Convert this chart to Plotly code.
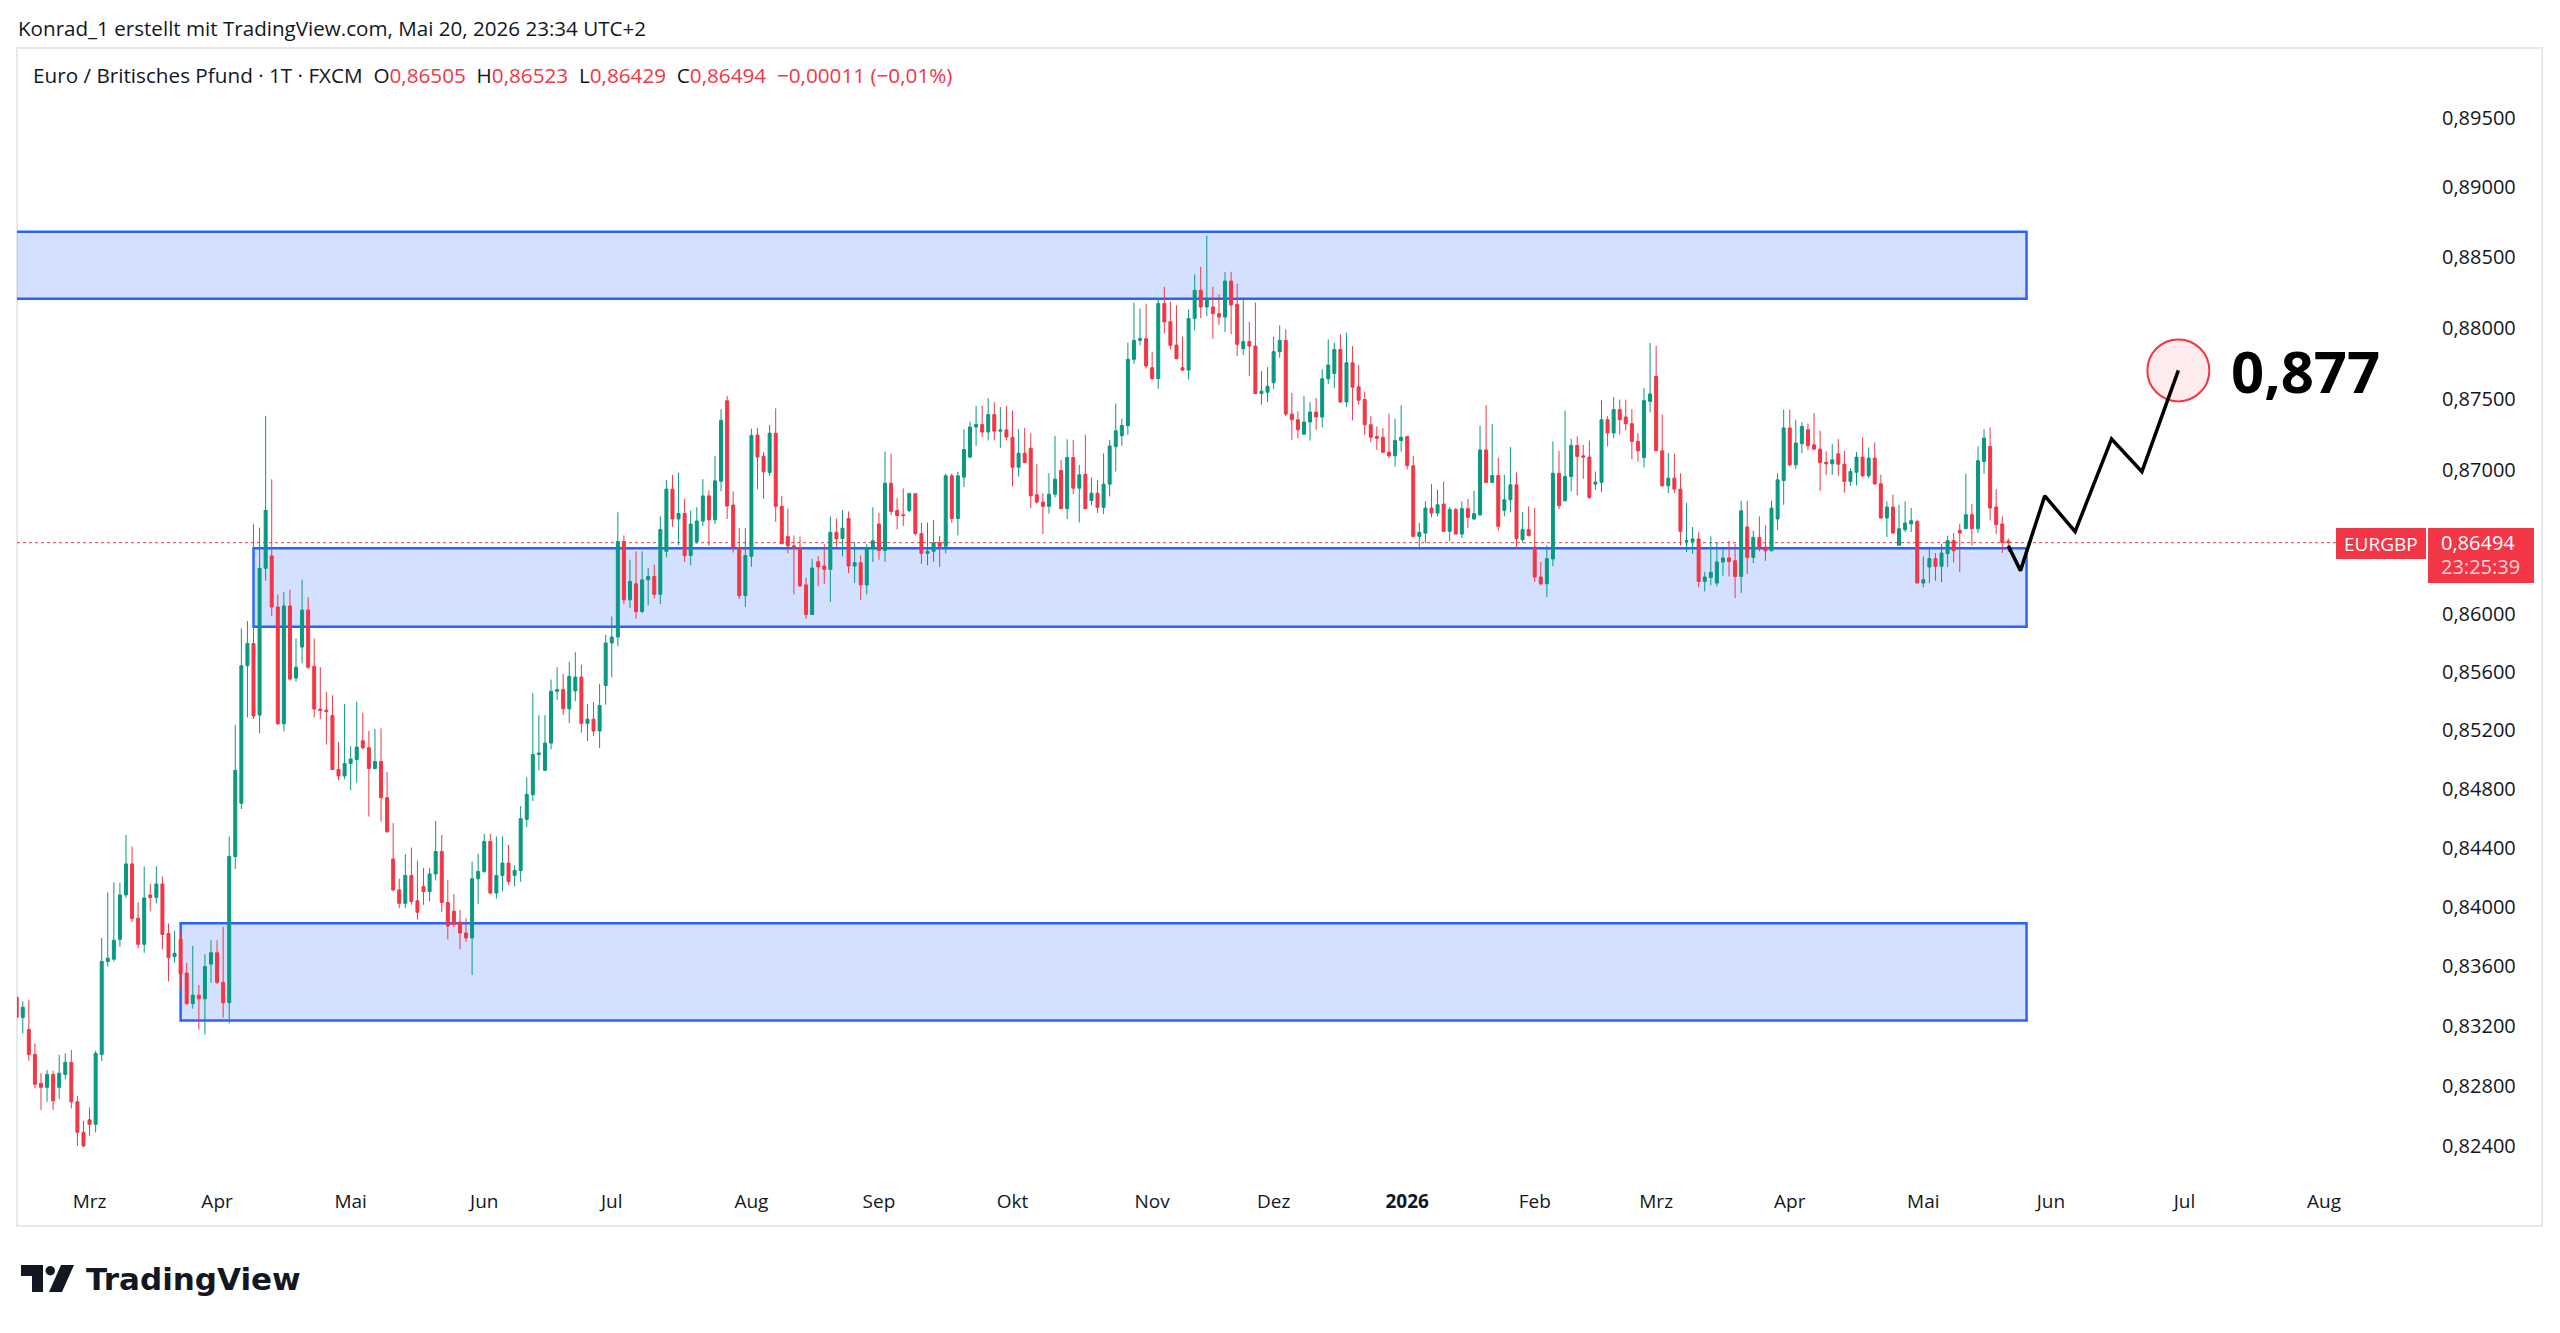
import numpy as np
import pandas as pd
import plotly.graph_objects as go

W, H = 2560, 1333
PL, PT, PR, PB = 17, 48, 2427, 1176   # plot area in px

UP = "#089981"
DOWN = "#F23645"
TXT = "#131722"
FONT = "Open Sans"

# ---------------- data (EUR/GBP daily, FXCM) ----------------
opens = [
0.83391,0.83255,0.83175,0.83009,0.82817,0.82790,0.82876,0.82790,0.82876,0.82956,
0.82694,0.82491,0.82574,0.82544,0.83009,0.83631,0.83647,0.83780,0.84080,0.84290,
0.83923,0.83747,0.84080,0.84063,0.84154,0.83820,0.83664,0.83780,0.83554,0.83349,
0.83405,0.83381,0.83614,0.83690,0.83491,0.83355,0.84340,0.84702,0.85643,0.85796,
0.85304,0.86316,0.86402,0.86048,0.85244,0.86055,0.85558,0.85772,0.86027,0.85639,
0.85345,0.85338,0.85301,0.84932,0.84888,0.84973,0.85000,0.85128,0.85081,0.84939,
0.84986,0.84740,0.84323,0.84114,0.84023,0.84212,0.84040,0.84137,0.84103,0.84222,
0.84374,0.84029,0.83970,0.83897,0.83823,0.83790,0.84189,0.84239,0.84442,0.84093,
0.84212,0.84296,0.84212,0.84245,0.84592,0.84760,0.85035,0.84926,0.85112,0.85467,
0.85479,0.85347,0.85470,0.85565,0.85247,0.85276,0.85195,0.85507,0.85800,0.85841,
0.86502,0.86098,0.86209,0.86017,0.86236,0.86259,0.86136,0.86434,0.86867,0.86659,
0.86697,0.86405,0.86502,0.86645,0.86820,0.86653,0.86922,0.87486,0.86756,0.86458,
0.86128,0.86399,0.87246,0.87097,0.86983,0.87258,0.86747,0.86537,0.86472,0.86458,
0.86201,0.85996,0.86362,0.86332,0.86309,0.86566,0.86522,0.86662,0.86332,0.86355,
0.86201,0.86455,0.86624,0.86440,0.86908,0.86718,0.86688,0.86718,0.86835,0.86557,
0.86420,0.86434,0.86493,0.86469,0.86960,0.86662,0.86951,0.87091,0.87302,0.87319,
0.87267,0.87389,0.87273,0.87281,0.87230,0.87020,0.87118,0.87153,0.86828,0.86777,
0.86747,0.86832,0.86997,0.86731,0.87088,0.86874,0.86972,0.86788,0.86839,0.86740,
0.86902,0.87164,0.87242,0.87311,0.87778,0.87912,0.87924,0.87719,0.87643,0.88172,
0.88044,0.87879,0.87719,0.87702,0.88066,0.88266,0.88148,0.88148,0.88101,0.88077,
0.88332,0.88167,0.87853,0.87903,0.87872,0.87537,0.87546,0.87613,0.87832,0.87912,
0.87393,0.87353,0.87252,0.87337,0.87407,0.87372,0.87641,0.87679,0.87848,0.87478,
0.87754,0.87584,0.87495,0.87318,0.87235,0.87230,0.87125,0.87100,0.87207,0.87235,
0.87030,0.86538,0.86561,0.86735,0.86700,0.86763,0.86573,0.86724,0.86554,0.86731,
0.86659,0.86689,0.87141,0.86914,0.86962,0.86719,0.86793,0.86897,0.86515,0.86585,
0.86464,0.86256,0.86209,0.86381,0.86978,0.86786,0.86955,0.87173,0.87100,0.87091,
0.86902,0.86914,0.87353,0.87260,0.87424,0.87372,0.87325,0.87201,0.87088,0.87482,
0.87658,0.87135,0.86890,0.86944,0.86867,0.86503,0.86503,0.86520,0.86225,0.86253,
0.86214,0.86360,0.86388,0.86369,0.86260,0.86603,0.86392,0.86531,0.86464,0.86438,
0.86659,0.86927,0.87295,0.87037,0.87185,0.87283,0.87177,0.87147,0.87055,0.87044,
0.87114,0.87041,0.86921,0.86985,0.87091,0.86960,0.87084,0.86904,0.86666,0.86742,
0.86476,0.86585,0.86626,0.86642,0.86214,0.86325,0.86383,0.86330,0.86418,0.86508,
0.86580,0.86591,0.86689,0.86591,0.87060,0.87166,0.86742,0.86624,0.86505]

highs = [
0.83398,0.83365,0.83375,0.83082,0.82883,0.82906,0.82900,0.83006,0.83016,0.83039,
0.82734,0.82567,0.82657,0.83033,0.83790,0.84097,0.84164,0.84161,0.84486,0.84408,
0.84029,0.84273,0.84154,0.84273,0.84205,0.83887,0.83837,0.83830,0.83621,0.83737,
0.83474,0.83680,0.83774,0.83774,0.83864,0.84476,0.85237,0.85900,0.85951,0.86626,
0.86599,0.87380,0.86936,0.86134,0.86151,0.86168,0.85831,0.86237,0.86116,0.85831,
0.85633,0.85463,0.85440,0.85118,0.85379,0.85091,0.85396,0.85321,0.85196,0.85210,
0.85213,0.84915,0.84567,0.84189,0.84357,0.84401,0.84313,0.84263,0.84263,0.84581,
0.84486,0.84182,0.84086,0.83980,0.83923,0.84306,0.84357,0.84493,0.84493,0.84476,
0.84476,0.84418,0.84280,0.84683,0.84878,0.85456,0.85304,0.85304,0.85548,0.85633,
0.85585,0.85671,0.85736,0.85651,0.85379,0.85393,0.85519,0.85856,0.85982,0.86706,
0.86545,0.86376,0.86434,0.86434,0.86318,0.86341,0.86677,0.86931,0.86966,0.86983,
0.86799,0.86718,0.86741,0.86937,0.86858,0.87100,0.87427,0.87521,0.86852,0.86595,
0.86595,0.87290,0.87296,0.87127,0.87316,0.87433,0.86820,0.86732,0.86545,0.86537,
0.86250,0.86382,0.86399,0.86484,0.86677,0.86662,0.86721,0.86712,0.86499,0.86405,
0.86484,0.86741,0.86703,0.87130,0.87115,0.86805,0.86872,0.86843,0.86840,0.86633,
0.86633,0.86653,0.86542,0.86975,0.86975,0.86989,0.87287,0.87340,0.87451,0.87451,
0.87506,0.87477,0.87442,0.87448,0.87417,0.87287,0.87294,0.87259,0.87041,0.86839,
0.86979,0.87240,0.87071,0.87216,0.87212,0.87037,0.87247,0.86949,0.86932,0.87118,
0.87212,0.87466,0.87360,0.87896,0.88179,0.88136,0.88172,0.87832,0.88209,0.88292,
0.88186,0.88160,0.87938,0.88132,0.88379,0.88433,0.88655,0.88292,0.88238,0.88396,
0.88398,0.88313,0.88198,0.88044,0.88179,0.87695,0.87723,0.87938,0.88018,0.87990,
0.87542,0.87412,0.87518,0.87476,0.87506,0.87707,0.87919,0.87896,0.87955,0.87966,
0.87872,0.87738,0.87549,0.87377,0.87306,0.87294,0.87396,0.87360,0.87455,0.87240,
0.87101,0.86631,0.86782,0.86904,0.86863,0.86921,0.86742,0.86735,0.86782,0.86798,
0.86856,0.87311,0.87455,0.87322,0.87088,0.86967,0.87161,0.86983,0.86707,0.86747,
0.86735,0.86360,0.86476,0.87201,0.87135,0.87417,0.87220,0.87236,0.87177,0.87208,
0.86990,0.87489,0.87377,0.87513,0.87494,0.87494,0.87428,0.87260,0.87576,0.87893,
0.87874,0.87389,0.87119,0.87114,0.86978,0.86770,0.86603,0.86566,0.86290,0.86538,
0.86492,0.86446,0.86508,0.86487,0.86786,0.86786,0.86578,0.86677,0.86615,0.86786,
0.86978,0.87424,0.87424,0.87353,0.87335,0.87325,0.87400,0.87276,0.87131,0.87182,
0.87217,0.87135,0.87013,0.87126,0.87229,0.87159,0.87194,0.86967,0.86781,0.86828,
0.86758,0.86781,0.86735,0.86654,0.86399,0.86467,0.86422,0.86487,0.86543,0.86561,
0.86626,0.86974,0.86763,0.87166,0.87288,0.87299,0.86867,0.86677,0.86523]

lows = [
0.83244,0.83149,0.82966,0.82783,0.82640,0.82694,0.82640,0.82710,0.82843,0.82650,
0.82401,0.82391,0.82468,0.82491,0.82966,0.83597,0.83631,0.83730,0.84060,0.83897,
0.83720,0.83690,0.83970,0.84023,0.83714,0.83498,0.83624,0.83448,0.83339,0.83315,
0.83175,0.83142,0.83488,0.83481,0.83255,0.83215,0.84256,0.84662,0.85288,0.85277,
0.85179,0.86230,0.85986,0.85237,0.85193,0.85541,0.85531,0.85660,0.85619,0.85288,
0.85277,0.85102,0.84932,0.84858,0.84865,0.84790,0.84841,0.85068,0.84611,0.84932,
0.84577,0.84499,0.84103,0.83990,0.83990,0.84013,0.83913,0.84013,0.84036,0.84178,
0.83963,0.83780,0.83864,0.83714,0.83764,0.83541,0.84020,0.84229,0.84086,0.84055,
0.84103,0.84148,0.84137,0.84168,0.84540,0.84717,0.84926,0.84921,0.85070,0.85407,
0.85304,0.85250,0.85399,0.85184,0.85127,0.85161,0.85078,0.85376,0.85562,0.85777,
0.86069,0.86040,0.85967,0.86005,0.86060,0.86107,0.86069,0.86391,0.86604,0.86478,
0.86361,0.86338,0.86487,0.86610,0.86472,0.86624,0.86852,0.86659,0.86426,0.86104,
0.86049,0.86326,0.86867,0.86799,0.86960,0.86639,0.86484,0.86420,0.86136,0.86186,
0.85967,0.85996,0.86192,0.86209,0.86084,0.86458,0.86399,0.86282,0.86215,0.86098,
0.86136,0.86361,0.86376,0.86361,0.86688,0.86586,0.86610,0.86706,0.86545,0.86347,
0.86338,0.86361,0.86326,0.86420,0.86633,0.86545,0.86881,0.87083,0.87170,0.87232,
0.87208,0.87208,0.87156,0.87208,0.86886,0.86955,0.87048,0.86735,0.86765,0.86554,
0.86696,0.86810,0.86731,0.86659,0.86832,0.86635,0.86731,0.86754,0.86700,0.86693,
0.86816,0.86990,0.87169,0.87247,0.87747,0.87877,0.87712,0.87629,0.87570,0.87962,
0.87848,0.87778,0.87695,0.87636,0.87983,0.88068,0.88084,0.87924,0.88021,0.87971,
0.87955,0.87801,0.87808,0.87660,0.87537,0.87459,0.87478,0.87570,0.87789,0.87377,
0.87212,0.87223,0.87252,0.87207,0.87282,0.87299,0.87605,0.87577,0.87471,0.87443,
0.87348,0.87459,0.87247,0.87195,0.87141,0.87125,0.87083,0.87025,0.87129,0.87004,
0.86531,0.86445,0.86492,0.86670,0.86677,0.86573,0.86503,0.86554,0.86527,0.86596,
0.86654,0.86677,0.86914,0.86909,0.86578,0.86677,0.86705,0.86452,0.86496,0.86538,
0.86221,0.86198,0.86117,0.86330,0.86728,0.86781,0.86851,0.86823,0.86939,0.86798,
0.86863,0.86846,0.87166,0.87224,0.87248,0.87278,0.87077,0.87060,0.87020,0.87405,
0.87135,0.86886,0.86839,0.86839,0.86473,0.86429,0.86418,0.86184,0.86156,0.86198,
0.86191,0.86265,0.86260,0.86110,0.86144,0.86276,0.86353,0.86434,0.86369,0.86434,
0.86580,0.86758,0.87025,0.87009,0.87119,0.87138,0.87138,0.86856,0.86967,0.86967,
0.86960,0.86842,0.86890,0.86893,0.86951,0.86944,0.86897,0.86661,0.86534,0.86557,
0.86476,0.86568,0.86568,0.86214,0.86184,0.86214,0.86230,0.86221,0.86325,0.86357,
0.86290,0.86591,0.86473,0.86561,0.86974,0.86649,0.86554,0.86422,0.86429]

closes = [
0.83258,0.83325,0.83009,0.82810,0.82790,0.82876,0.82700,0.82883,0.82956,0.82694,
0.82491,0.82401,0.82544,0.83016,0.83631,0.83654,0.83774,0.84080,0.84290,0.83920,
0.83747,0.84060,0.84063,0.84154,0.83813,0.83657,0.83687,0.83548,0.83349,0.83405,
0.83381,0.83597,0.83690,0.83491,0.83355,0.84340,0.84926,0.85643,0.85796,0.85298,
0.86316,0.86719,0.86048,0.85244,0.86055,0.85551,0.85633,0.86027,0.85633,0.85345,
0.85335,0.85328,0.84932,0.84888,0.84973,0.85003,0.85085,0.85081,0.84939,0.84986,
0.84740,0.84509,0.84114,0.84023,0.84212,0.84036,0.83963,0.84103,0.84222,0.84374,
0.84029,0.83870,0.83880,0.83823,0.83790,0.84189,0.84239,0.84442,0.84093,0.84212,
0.84296,0.84171,0.84246,0.84597,0.84763,0.85035,0.85044,0.85112,0.85467,0.85479,
0.85347,0.85570,0.85565,0.85247,0.85276,0.85195,0.85370,0.85800,0.85841,0.86502,
0.86098,0.86224,0.86017,0.86236,0.86259,0.86136,0.86586,0.86867,0.86659,0.86697,
0.86405,0.86624,0.86645,0.86820,0.86653,0.86925,0.87349,0.86750,0.86458,0.86128,
0.86405,0.87243,0.87091,0.86989,0.87258,0.86747,0.86487,0.86472,0.86458,0.86195,
0.85996,0.86318,0.86326,0.86309,0.86566,0.86522,0.86595,0.86332,0.86355,0.86201,
0.86455,0.86507,0.86440,0.86908,0.86712,0.86683,0.86683,0.86835,0.86557,0.86420,
0.86434,0.86493,0.86469,0.86960,0.86662,0.86960,0.87144,0.87302,0.87319,0.87267,
0.87389,0.87273,0.87281,0.87232,0.87020,0.87118,0.87053,0.86821,0.86777,0.86747,
0.86832,0.86937,0.86731,0.87088,0.86874,0.86967,0.86731,0.86839,0.86740,0.86902,
0.87169,0.87275,0.87313,0.87778,0.87912,0.87924,0.87731,0.87643,0.88172,0.88042,
0.87877,0.87782,0.87702,0.88066,0.88266,0.88148,0.88207,0.88101,0.88077,0.88332,
0.88162,0.87884,0.87903,0.87872,0.87537,0.87554,0.87589,0.87832,0.87912,0.87393,
0.87353,0.87282,0.87337,0.87407,0.87372,0.87641,0.87738,0.87848,0.87478,0.87754,
0.87582,0.87490,0.87318,0.87230,0.87223,0.87125,0.87100,0.87207,0.87230,0.87032,
0.86538,0.86566,0.86735,0.86700,0.86758,0.86573,0.86724,0.86554,0.86731,0.86670,
0.86696,0.87141,0.86914,0.86962,0.86608,0.86793,0.86897,0.86522,0.86585,0.86543,
0.86256,0.86209,0.86383,0.86978,0.86751,0.86955,0.87173,0.87096,0.87091,0.86809,
0.86916,0.87353,0.87260,0.87424,0.87353,0.87325,0.87201,0.87135,0.87487,0.87534,
0.87135,0.86890,0.86944,0.86867,0.86573,0.86508,0.86520,0.86225,0.86256,0.86288,
0.86360,0.86388,0.86364,0.86260,0.86716,0.86392,0.86531,0.86457,0.86438,0.86735,
0.86932,0.87295,0.87037,0.87189,0.87306,0.87170,0.87147,0.87053,0.87044,0.87072,
0.87041,0.86921,0.86990,0.87091,0.86960,0.87084,0.86904,0.86666,0.86742,0.86561,
0.86591,0.86631,0.86647,0.86214,0.86237,0.86383,0.86330,0.86422,0.86508,0.86438,
0.86561,0.86689,0.86591,0.87066,0.87224,0.86735,0.86619,0.86496,0.86494]

first_day, last_axis_day = "2025-02-13", "2026-08-31"
holidays = ["2025-12-25", "2026-01-01"]
de_months = ["Jan", "Feb", "Mrz", "Apr", "Mai", "Jun", "Jul", "Aug", "Sep", "Okt", "Nov", "Dez"]

# rectangles (supply / demand zones): bar index start/end, price low/high
zone_x0 = [-10, 39, 27]
zone_x1 = [331, 331, 331]
zone_lo = [0.88206, 0.85912, 0.83235]
zone_hi = [0.88682, 0.86455, 0.83888]

# projected path (bar index, price)
proj_x = [328, 330, 334, 339, 345, 350, 356]
proj_y = [0.86472, 0.86300, 0.86820, 0.86571, 0.87218, 0.86989, 0.87700]
target_price = 0.877

price_ticks = [0.824, 0.828, 0.832, 0.836, 0.840, 0.844, 0.848, 0.852, 0.856,
               0.860, 0.870, 0.875, 0.880, 0.885, 0.890, 0.895]

# ---------------- derived ----------------
days = pd.bdate_range(first_day, last_axis_day)
days = days[~days.isin(pd.to_datetime(holidays))]
n = len(closes)
xi = list(range(n))

tickvals, ticktext = [], []
prev = None
for i, d in enumerate(days):
    key = (d.year, d.month)
    if key != prev:
        if i > 0:
            tickvals.append(i)
            ticktext.append(f"<b>{d.year}</b>" if d.month == 1 else de_months[d.month - 1])
        prev = key

last = closes[-1]
y_top = 0.90002
y_bot = 0.82202

def fx(px):
    return (px - PL) / (PR - PL)

def fy(py):
    return (PB - py) / (PB - PT)

def price_to_paper(p):
    return (np.log10(p) - np.log10(y_bot)) / (np.log10(y_top) - np.log10(y_bot))

def fmt(v):
    return f"{v:.5f}".replace(".", ",")

fig = go.Figure()
fig.add_trace(go.Candlestick(
    x=xi, open=opens, high=highs, low=lows, close=closes,
    increasing=dict(line=dict(color=UP, width=1), fillcolor=UP),
    decreasing=dict(line=dict(color=DOWN, width=1), fillcolor=DOWN),
    whiskerwidth=0, hoverinfo="skip", showlegend=False))
fig.add_trace(go.Scatter(x=proj_x, y=proj_y, mode="lines",
                         line=dict(color="#000000", width=3.5),
                         hoverinfo="skip", showlegend=False))

shapes = []
# outer frame
shapes.append(dict(type="rect", xref="paper", yref="paper",
                   x0=fx(17), x1=fx(2542), y0=fy(1226), y1=fy(48),
                   line=dict(color="#e6e8ec", width=2), fillcolor="rgba(0,0,0,0)", layer="below"))
# shapes on a log axis take data values directly
for x0, x1, lo, hi in zip(zone_x0, zone_x1, zone_lo, zone_hi):
    shapes.append(dict(type="rect", xref="x", yref="y", x0=x0, x1=x1, y0=lo, y1=hi,
                       fillcolor="rgba(41,98,255,0.2)",
                       line=dict(color="#2962FF", width=2.5), layer="below"))
# last price dotted line
shapes.append(dict(type="line", xref="paper", yref="y", x0=0, x1=1, y0=last, y1=last,
                   line=dict(color=DOWN, width=1, dash="dot"), layer="below"))
# target circle (anchored at the target price, fixed pixel radius)
shapes.append(dict(type="circle", xref="x", yref="paper", xsizemode="pixel", ysizemode="pixel",
                   xanchor=proj_x[-1], yanchor=price_to_paper(target_price),
                   x0=-31, x1=31, y0=-31, y1=31,
                   line=dict(color=DOWN, width=2), fillcolor="rgba(242,54,69,0.1)", layer="below"))
# price labels on the right
shapes.append(dict(type="rect", xref="paper", yref="paper", x0=fx(2336), x1=fx(2426),
                   y0=fy(559), y1=fy(528), fillcolor=DOWN, line=dict(width=0)))
shapes.append(dict(type="rect", xref="paper", yref="paper", x0=fx(2428), x1=fx(2534),
                   y0=fy(583), y1=fy(528), fillcolor=DOWN, line=dict(width=0)))
# TradingView logo mark
shapes.append(dict(type="rect", xref="paper", yref="paper", x0=fx(21), x1=fx(43),
                   y0=fy(1276), y1=fy(1265), fillcolor="#131722", line=dict(width=0)))
shapes.append(dict(type="rect", xref="paper", yref="paper", x0=fx(32), x1=fx(43),
                   y0=fy(1292), y1=fy(1265), fillcolor="#131722", line=dict(width=0)))
shapes.append(dict(type="circle", xref="paper", yref="paper", x0=fx(45.5), x1=fx(55),
                   y0=fy(1275.5), y1=fy(1266), fillcolor="#131722", line=dict(width=0)))
path = "M {0},{1} L {2},{1} L {3},{4} L {5},{4} Z".format(
    fx(61), fy(1265), fx(74), fx(62), fy(1292), fx(49))
shapes.append(dict(type="path", xref="paper", yref="paper", path=path,
                   fillcolor="#131722", line=dict(width=0)))

ann = []
ann.append(dict(text="Konrad_1 erstellt mit TradingView.com, Mai 20, 2026 23:34 UTC+2",
                xref="paper", yref="paper", x=fx(16), y=fy(28), xanchor="left", yanchor="middle",
                showarrow=False, font=dict(family=FONT, size=20.6, color=TXT)))
nb = "\u00a0\u00a0"
red = lambda s: f"<span style='color:{DOWN}'>{s}</span>"
legend = ("Euro / Britisches Pfund · 1T · FXCM" + nb +
          "O" + red(fmt(opens[-1])) + nb + "H" + red(fmt(highs[-1])) + nb +
          "L" + red(fmt(lows[-1])) + nb + "C" + red(fmt(closes[-1])) + nb +
          red("−0,00011 (−0,01%)"))
ann.append(dict(text=legend, xref="paper", yref="paper", x=fx(31), y=fy(75),
                xanchor="left", yanchor="middle", showarrow=False,
                font=dict(family=FONT, size=20.7, color=TXT)))
# annotations on a log axis take log10 values
ann.append(dict(text="<b>0,877</b>", xref="x", yref="y", x=364.3, y=np.log10(target_price),
                xanchor="left", yanchor="middle", showarrow=False,
                font=dict(family=FONT, size=58, color="#000000")))
ann.append(dict(text="EURGBP", xref="paper", yref="paper", x=fx(2381), y=fy(543.5),
                xanchor="center", yanchor="middle", showarrow=False,
                font=dict(family=FONT, size=19, color="#ffffff")))
ann.append(dict(text=fmt(last), xref="paper", yref="paper", x=fx(2439), y=fy(542),
                xanchor="left", yanchor="middle", showarrow=False,
                font=dict(family=FONT, size=20, color="#ffffff")))
ann.append(dict(text="23:25:39", xref="paper", yref="paper", x=fx(2439), y=fy(566),
                xanchor="left", yanchor="middle", showarrow=False,
                font=dict(family=FONT, size=20, color="rgba(255,255,255,0.8)")))
ann.append(dict(text="<b>TradingView</b>", xref="paper", yref="paper", x=fx(84), y=fy(1279),
                xanchor="left", yanchor="middle", showarrow=False,
                font=dict(family="DejaVu Sans", size=31, color="#131722")))

fig.update_layout(
    width=W, height=H, autosize=False,
    margin=dict(l=PL, r=W - PR, t=PT, b=H - PB, pad=0),
    paper_bgcolor="#ffffff", plot_bgcolor="#ffffff", showlegend=False,
    shapes=shapes, annotations=ann,
    xaxis=dict(range=[0.05, 396.95], tickmode="array", tickvals=tickvals, ticktext=ticktext,
               showgrid=False, zeroline=False, showline=False, ticks="",
               ticklabelstandoff=12, tickfont=dict(family=FONT, size=19, color=TXT),
               rangeslider=dict(visible=False), fixedrange=True),
    yaxis=dict(type="log", range=[np.log10(y_bot), np.log10(y_top)], side="right",
               tickmode="array", tickvals=price_ticks, ticktext=[fmt(v) for v in price_ticks],
               showgrid=False, zeroline=False, showline=False, ticks="",
               ticklabelstandoff=14, tickfont=dict(family=FONT, size=20, color=TXT),
               fixedrange=True),
)

fig.write_html("out.html")
